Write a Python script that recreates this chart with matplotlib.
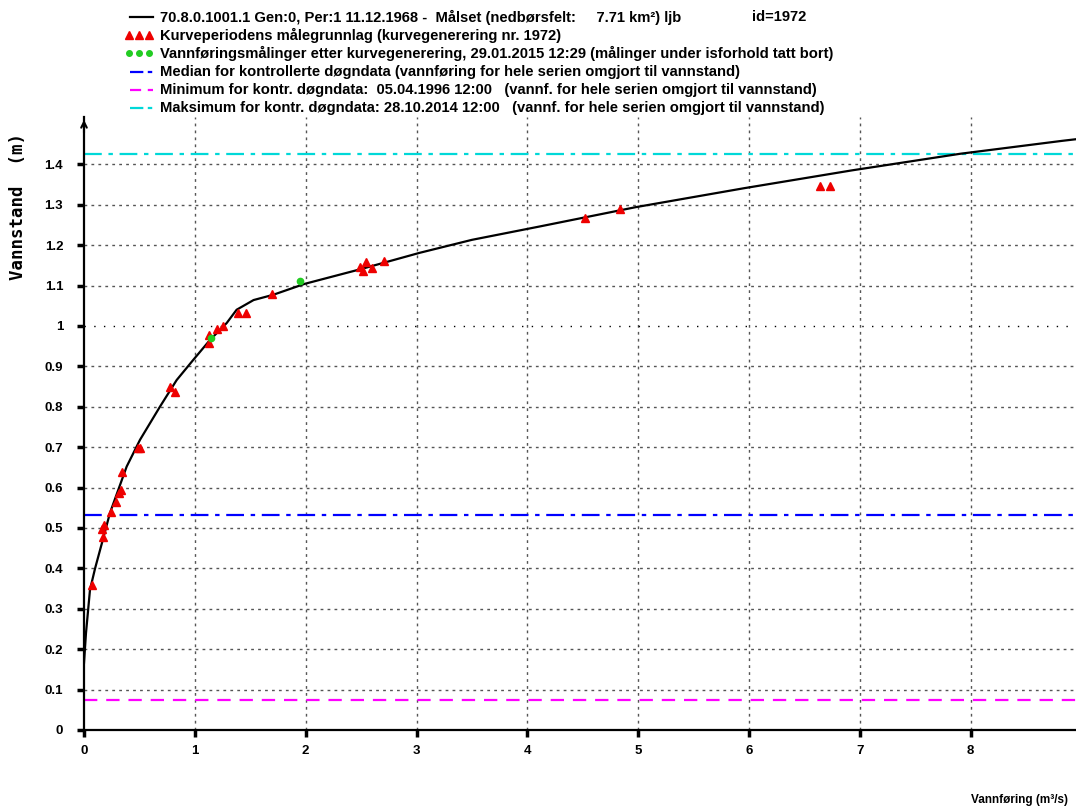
import matplotlib.pyplot as plt
from matplotlib.lines import Line2D
from matplotlib.ticker import FuncFormatter

# rating curve (vannføring, vannstand)
q_curve = [0.0, 0.018, 0.054, 0.10, 0.174, 0.234, 0.385, 0.505, 0.685, 0.836,
           0.986, 1.136, 1.287, 1.377, 1.53, 1.707, 1.99, 2.49, 3.03, 3.5,
           4.11, 4.98, 5.96, 6.93, 7.905, 8.825, 8.95]
h_curve = [0.166, 0.24, 0.347, 0.40, 0.475, 0.537, 0.652, 0.718, 0.80, 0.866,
           0.916, 0.965, 1.007, 1.04, 1.064, 1.077, 1.104, 1.14, 1.181, 1.213,
           1.246, 1.294, 1.341, 1.385, 1.426, 1.458, 1.462]

# kurveperiodens målinger (rød)
q_red = [0.075, 0.16, 0.18, 0.17, 0.243, 0.289, 0.318, 0.33, 0.343, 0.483,
         0.505, 0.775, 0.82, 1.127, 1.127, 1.20, 1.256, 1.386, 1.458, 1.695,
         2.49, 2.52, 2.54, 2.60, 2.705, 4.52, 4.84, 6.64, 6.73]
h_red = [0.36, 0.497, 0.507, 0.478, 0.540, 0.564, 0.587, 0.594, 0.639, 0.699,
         0.699, 0.848, 0.836, 0.957, 0.978, 0.993, 1.001, 1.033, 1.033, 1.078,
         1.145, 1.137, 1.158, 1.143, 1.161, 1.268, 1.289, 1.347, 1.347]

# målinger etter kurvegenerering (grønn)
q_green = [1.15, 1.948]
h_green = [0.97, 1.112]

h_median = 0.532
h_min = 0.074
h_max = 1.425

labels = [
    "70.8.0.1001.1 Gen:0, Per:1 11.12.1968 -  Målset (nedbørsfelt:     7.71 km²) ljb",
    "Kurveperiodens målegrunnlag (kurvegenerering nr. 1972)",
    "Vannføringsmålinger etter kurvegenerering, 29.01.2015 12:29 (målinger under isforhold tatt bort)",
    "Median for kontrollerte døgndata (vannføring for hele serien omgjort til vannstand)",
    "Minimum for kontr. døgndata:  05.04.1996 12:00   (vannf. for hele serien omgjort til vannstand)",
    "Maksimum for kontr. døgndata: 28.10.2014 12:00   (vannf. for hele serien omgjort til vannstand)",
]

RED = '#ee0000'
GREEN = '#22cc22'
BLUE = '#0000ff'
MAGENTA = '#ff00ff'
CYAN = '#00d8d8'
DASHDOT = (0, (8, 3, 2, 3))
DASHED = (0, (6, 4))

plt.rcParams['font.family'] = ['Liberation Sans', 'DejaVu Sans']

W, H = 1076, 810
fig = plt.figure(figsize=(W / 100, H / 100), dpi=100)
ax = fig.add_axes([84 / W, 80 / H, 992 / W, 613 / H])
ax.set_xlim(0, 8.95)
ax.set_ylim(0, 1.517)

# rutenett
for x in range(1, 9):
    ax.axvline(x, color='#555555', lw=1, ls=(0, (2, 3)), zorder=1)
for i in range(1, 15):
    y = i / 10
    if i == 10:
        ax.axhline(y, color='black', lw=1, ls=(0, (1, 6)), zorder=1)
    else:
        ax.axhline(y, color='#555555', lw=1, ls=(0, (2, 3)), zorder=1)

ax.axhline(h_median, color=BLUE, lw=1.6, ls=DASHDOT, zorder=2)
ax.axhline(h_min, color=MAGENTA, lw=1.6, ls=DASHED, zorder=2)
ax.axhline(h_max, color=CYAN, lw=1.6, ls=DASHDOT, zorder=2)

ax.plot(q_curve, h_curve, color='black', lw=1.6, zorder=3)
ax.plot(q_red, h_red, ls='none', marker='^', ms=5.5, color=RED,
        markeredgecolor=RED, zorder=4)
ax.plot(q_green, h_green, ls='none', marker='o', ms=4.5, color=GREEN,
        markeredgecolor=GREEN, zorder=5)

# akser
ax.spines['top'].set_visible(False)
ax.spines['right'].set_visible(False)
ax.spines['left'].set_linewidth(1.6)
ax.spines['bottom'].set_linewidth(1.6)
ax.annotate('', xy=(0, 1.0), xytext=(0, 0.97), xycoords='axes fraction',
            arrowprops=dict(arrowstyle='->', lw=1.5, color='black'))

ax.set_xticks(range(0, 9))
ax.set_yticks([i / 10 for i in range(0, 15)])
ax.set_yticks([1.0], minor=True)
ax.yaxis.set_major_formatter(FuncFormatter(lambda v, p: '%g' % round(v, 1)))
ax.tick_params(axis='both', length=5, width=2.5, direction='out', labelsize=9.5)
ax.tick_params(axis='y', which='minor', length=16, width=2.5)
ax.tick_params(axis='x', pad=6)
ax.tick_params(axis='y', pad=10)
for t in ax.get_xticklabels() + ax.get_yticklabels():
    t.set_fontweight('bold')

fig.text(18 / W, 1 - 207 / H, 'Vannstand  (m)', rotation=90, ha='center',
         va='center', family='DejaVu Sans Mono', fontweight='bold', fontsize=12.5)
fig.text(1068 / W, 1 - 800 / H, 'Vannføring (m³/s)', ha='right', va='center',
         fontweight='bold', fontsize=8.5)

# tegnforklaring, tegnet for hånd
handle_styles = [
    dict(color='black', lw=1.6),
    dict(ls='none', marker='^', ms=5.5, color=RED),
    dict(ls='none', marker='o', ms=4, color=GREEN),
    dict(color=BLUE, lw=1.6, ls=(0, (6, 2, 2, 2))),
    dict(color=MAGENTA, lw=1.6, ls=(0, (5, 3))),
    dict(color=CYAN, lw=1.6, ls=(0, (6, 2, 2, 2))),
]
for i, (label, style) in enumerate(zip(labels, handle_styles)):
    yp = 1 - (17 + 18.2 * i) / H
    if style.get('ls') == 'none':
        xs = [129 / W, 139 / W, 149 / W]
    else:
        xs = [130 / W, 153 / W]
    fig.add_artist(Line2D(xs, [yp] * len(xs), transform=fig.transFigure, **style))
    fig.text(160 / W, yp, label, ha='left', va='center', fontweight='bold',
             fontsize=10.6)
fig.text(752 / W, 1 - 17 / H, 'id=1972', ha='left', va='center',
         fontweight='bold', fontsize=10.6)

fig.savefig('out.png', dpi=100)
